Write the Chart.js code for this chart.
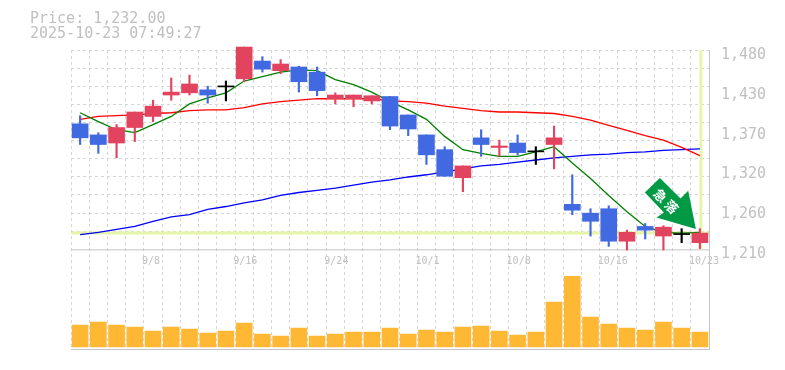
<!DOCTYPE html>
<html>
<head>
<meta charset="utf-8">
<title>Price chart</title>
<script src="https://cdn.jsdelivr.net/npm/chart.js@4/dist/chart.umd.min.js"></script>
<style>
    html, body { margin: 0; background: #fff; }
    #wrap { position: relative; width: 785px; height: 370px; overflow: hidden; }
    #head { position: absolute; left: 30px; top: 11px; font: 15px/15px "DejaVu Sans Mono", monospace; color: #c0c0c0; white-space: pre; }
    canvas { display: block; }
</style>
</head>
<body>
<div id="wrap">
    <div id="head">Price: 1,232.00
2025-10-23 07:49:27</div>
    <canvas id="chart" width="785" height="370"></canvas>
</div>
<script>
// --- DATA ---
const dates = ["9/2","9/3","9/4","9/5","9/8","9/9","9/10","9/11","9/12","9/16","9/17","9/18","9/19","9/22","9/24","9/25","9/26","9/29","9/30","10/1","10/2","10/3","10/6","10/7","10/8","10/9","10/10","10/14","10/15","10/16","10/17","10/20","10/21","10/22","10/23"];
const shownDates = ["9/8","9/16","9/24","10/1","10/8","10/16","10/23"];

const open  = [1380,1365,1354,1375,1390,1419,1422,1426,1430,1441,1465,1452,1457,1450,1414,1414,1411,1417,1392,1365,1345,1307,1361,1348,1354,1342,1352,1271,1259,1265,1221,1241,1228,1230,1219];
const close = [1361,1352,1375,1396,1404,1423,1434,1419,1430,1484,1454,1461,1437,1425,1419,1419,1418,1377,1373,1338,1309,1323,1352,1350,1341,1342,1361,1263,1248,1221,1233,1236,1240,1230,1232];
const high  = [1391,1368,1379,1396,1412,1442,1446,1431,1438,1484,1471,1467,1458,1457,1422,1419,1418,1417,1392,1365,1349,1323,1372,1358,1365,1349,1377,1311,1265,1269,1236,1245,1242,1238,1238];
const low   = [1352,1340,1334,1356,1383,1412,1419,1408,1411,1437,1450,1448,1423,1418,1407,1403,1407,1372,1364,1325,1309,1288,1336,1336,1338,1325,1319,1257,1228,1214,1209,1224,1209,1219,1211];

const maShort = [1395,1383,1372,1368,1379,1390,1407,1415,1422,1438,1444,1450,1453,1452,1440,1433,1423,1410,1399,1386,1363,1345,1340,1336,1336,1342,1349,1327,1306,1283,1261,1241,1233,1232,1233];
const maMid   = [1386,1390,1391,1392,1394,1395,1398,1399,1399,1402,1407,1410,1412,1414,1414,1414,1414,1411,1410,1408,1404,1401,1398,1396,1396,1395,1394,1390,1385,1378,1371,1364,1358,1348,1337];
const maLong  = [1230,1233,1237,1241,1248,1254,1257,1264,1268,1273,1277,1283,1287,1290,1293,1297,1301,1304,1308,1311,1315,1319,1323,1325,1328,1331,1334,1336,1338,1339,1341,1342,1344,1345,1346];

const volume = [22000,25000,22000,20000,16000,20000,18000,14000,16000,24000,13000,11000,19000,11000,13000,15000,15000,19000,13000,17000,15000,20000,21000,16000,12000,15000,45000,71000,30000,23000,19000,17000,25000,19000,15000];

const lastPrice = 1232;
const priceMin = 1210;
const priceMax = 1480;
const priceTicks = [1480,1426,1372,1318,1264,1210];
const priceLabels = ["1,480","1,430","1,370","1,320","1,260","1,210"];
const gridCount = 11;
const signalText = "急落";

// --- COLORS ---
const upColor = "#e2435f";
const downColor = "#4169e1";
const gridColor = "#d6d6d6";
const frameColor = "#c4c4c4";
const textColor = "#c0c0c0";
const markColor = "#e6f5a8";

const candleColor = open.map((o, i) => close[i] > o ? upColor : close[i] < o ? downColor : "#000000");

// horizontal grid lines do not sit on the labelled prices
const gridTicks = [];
for (let i = 1; i < gridCount; i++) gridTicks.push(priceMin + (priceMax - priceMin) * i / gridCount);

// current price lines and pane frame, behind the marks
const backdrop = {
    id: "backdrop",
    beforeDatasetsDraw(chart) {
        const { ctx, chartArea, scales } = chart;
        const y = scales.y.getPixelForValue(lastPrice);
        const x = scales.x.getPixelForValue(dates.length - 1);
        ctx.save();
        ctx.strokeStyle = markColor;
        ctx.lineWidth = 3;
        ctx.beginPath();
        ctx.moveTo(chartArea.left, y);
        ctx.lineTo(chartArea.right, y);
        ctx.moveTo(x + 1, scales.y.top);
        ctx.lineTo(x + 1, scales.y.bottom);
        ctx.stroke();
        ctx.strokeStyle = frameColor;
        ctx.lineWidth = 1;
        ctx.beginPath();
        ctx.moveTo(chartArea.left, scales.y.bottom + 0.5);
        ctx.lineTo(chartArea.right, scales.y.bottom + 0.5);
        ctx.moveTo(chartArea.left, chartArea.bottom + 0.5);
        ctx.lineTo(chartArea.right, chartArea.bottom + 0.5);
        ctx.stroke();
        ctx.restore();
    }
};

// green signal arrow, its tip hangs off the last candle
const signalArrow = {
    id: "signalArrow",
    afterDatasetsDraw(chart) {
        const { ctx, scales } = chart;
        const tipX = scales.x.getPixelForValue(dates.length - 1) - 4;
        const tipY = scales.y.getPixelForValue(lastPrice) - 4;
        const shape = [[0,0],[-7.7,-38.3],[-15.3,-30.6],[-36,-51],[-51,-36.6],[-32,-16.6],[-39.3,-11.6]];
        ctx.save();
        ctx.translate(tipX, tipY);
        ctx.fillStyle = "#009944";
        ctx.beginPath();
        shape.forEach((p, i) => i ? ctx.lineTo(p[0], p[1]) : ctx.moveTo(p[0], p[1]));
        ctx.closePath();
        ctx.fill();
        ctx.translate(-29.5, -27.5);
        ctx.rotate(Math.PI / 4);
        ctx.fillStyle = "#ffffff";
        ctx.font = 'bold 13px "Noto Sans CJK JP"';
        ctx.letterSpacing = "3px";
        ctx.textAlign = "center";
        ctx.textBaseline = "middle";
        ctx.fillText(signalText, 1, 0);
        ctx.restore();
    }
};

const lineSet = (data, color, order) => ({
    type: "line", data, borderColor: color, borderWidth: 1.3, pointRadius: 0, tension: 0, order, yAxisID: "y"
});

new Chart(document.getElementById("chart"), {
    data: {
        labels: dates,
        datasets: [
            // bodies on top, then wicks, then moving averages
            { type: "bar", data: open.map((o, i) => [o, close[i]]), backgroundColor: candleColor, barThickness: 16, minBarLength: 1, grouped: false, clip: false, order: 1, yAxisID: "y" },
            { type: "bar", data: low.map((l, i) => [l, high[i]]), backgroundColor: candleColor, barThickness: 1.5, grouped: false, clip: false, order: 2, yAxisID: "y" },
            lineSet(maShort, "#008000", 3),
            lineSet(maMid, "#ff0000", 4),
            lineSet(maLong, "#0000ff", 5),
            { type: "bar", data: volume, backgroundColor: "#ffb833", barThickness: 16, grouped: false, order: 6, yAxisID: "v" }
        ]
    },
    options: {
        responsive: false,
        animation: false,
        layout: { padding: { left: 71, top: 50, bottom: 20, right: 0 } },
        plugins: { legend: { display: false }, tooltip: { enabled: false } },
        scales: {
            x: {
                // date labels sit on the line between the two panes
                position: { y: priceMin },
                offset: true,
                grid: { offset: true, color: gridColor, drawTicks: false },
                border: { display: false, dash: [3, 3] },
                ticks: {
                    autoSkip: false,
                    maxRotation: 0,
                    align: "start",
                    labelOffset: -11,
                    padding: 6,
                    color: textColor,
                    font: { family: '"DejaVu Sans Mono"', size: 10 },
                    callback: (v, i) => shownDates.includes(dates[i]) ? dates[i] : ""
                }
            },
            y: {
                position: "right",
                stack: "panes",
                stackWeight: 2,
                min: priceMin,
                max: priceMax,
                afterFit: (s) => { s.width = 76; },
                afterBuildTicks: (s) => {
                    s.ticks = gridTicks.concat(priceTicks).map((value) => ({ value }));
                },
                grid: {
                    drawTicks: false,
                    color: (c) => gridTicks.includes(c.tick.value) || c.tick.value === priceMax ? gridColor : "rgba(0,0,0,0)"
                },
                border: { color: frameColor, dash: [3, 3], display: true },
                ticks: {
                    autoSkip: false,
                    padding: 12,
                    labelOffset: 5,
                    color: textColor,
                    font: { family: '"DejaVu Sans Mono"', size: 15 },
                    callback: (v) => {
                        const i = priceTicks.indexOf(v);
                        return i >= 0 ? priceLabels[i] : "";
                    }
                }
            },
            v: {
                position: "right",
                stack: "panes",
                stackWeight: 1,
                min: -2000,
                max: 98000,
                afterFit: (s) => { s.width = 76; },
                grid: { display: false },
                border: { color: frameColor },
                ticks: { display: false }
            }
        }
    },
    plugins: [backdrop, signalArrow]
});
</script>
</body>
</html>
